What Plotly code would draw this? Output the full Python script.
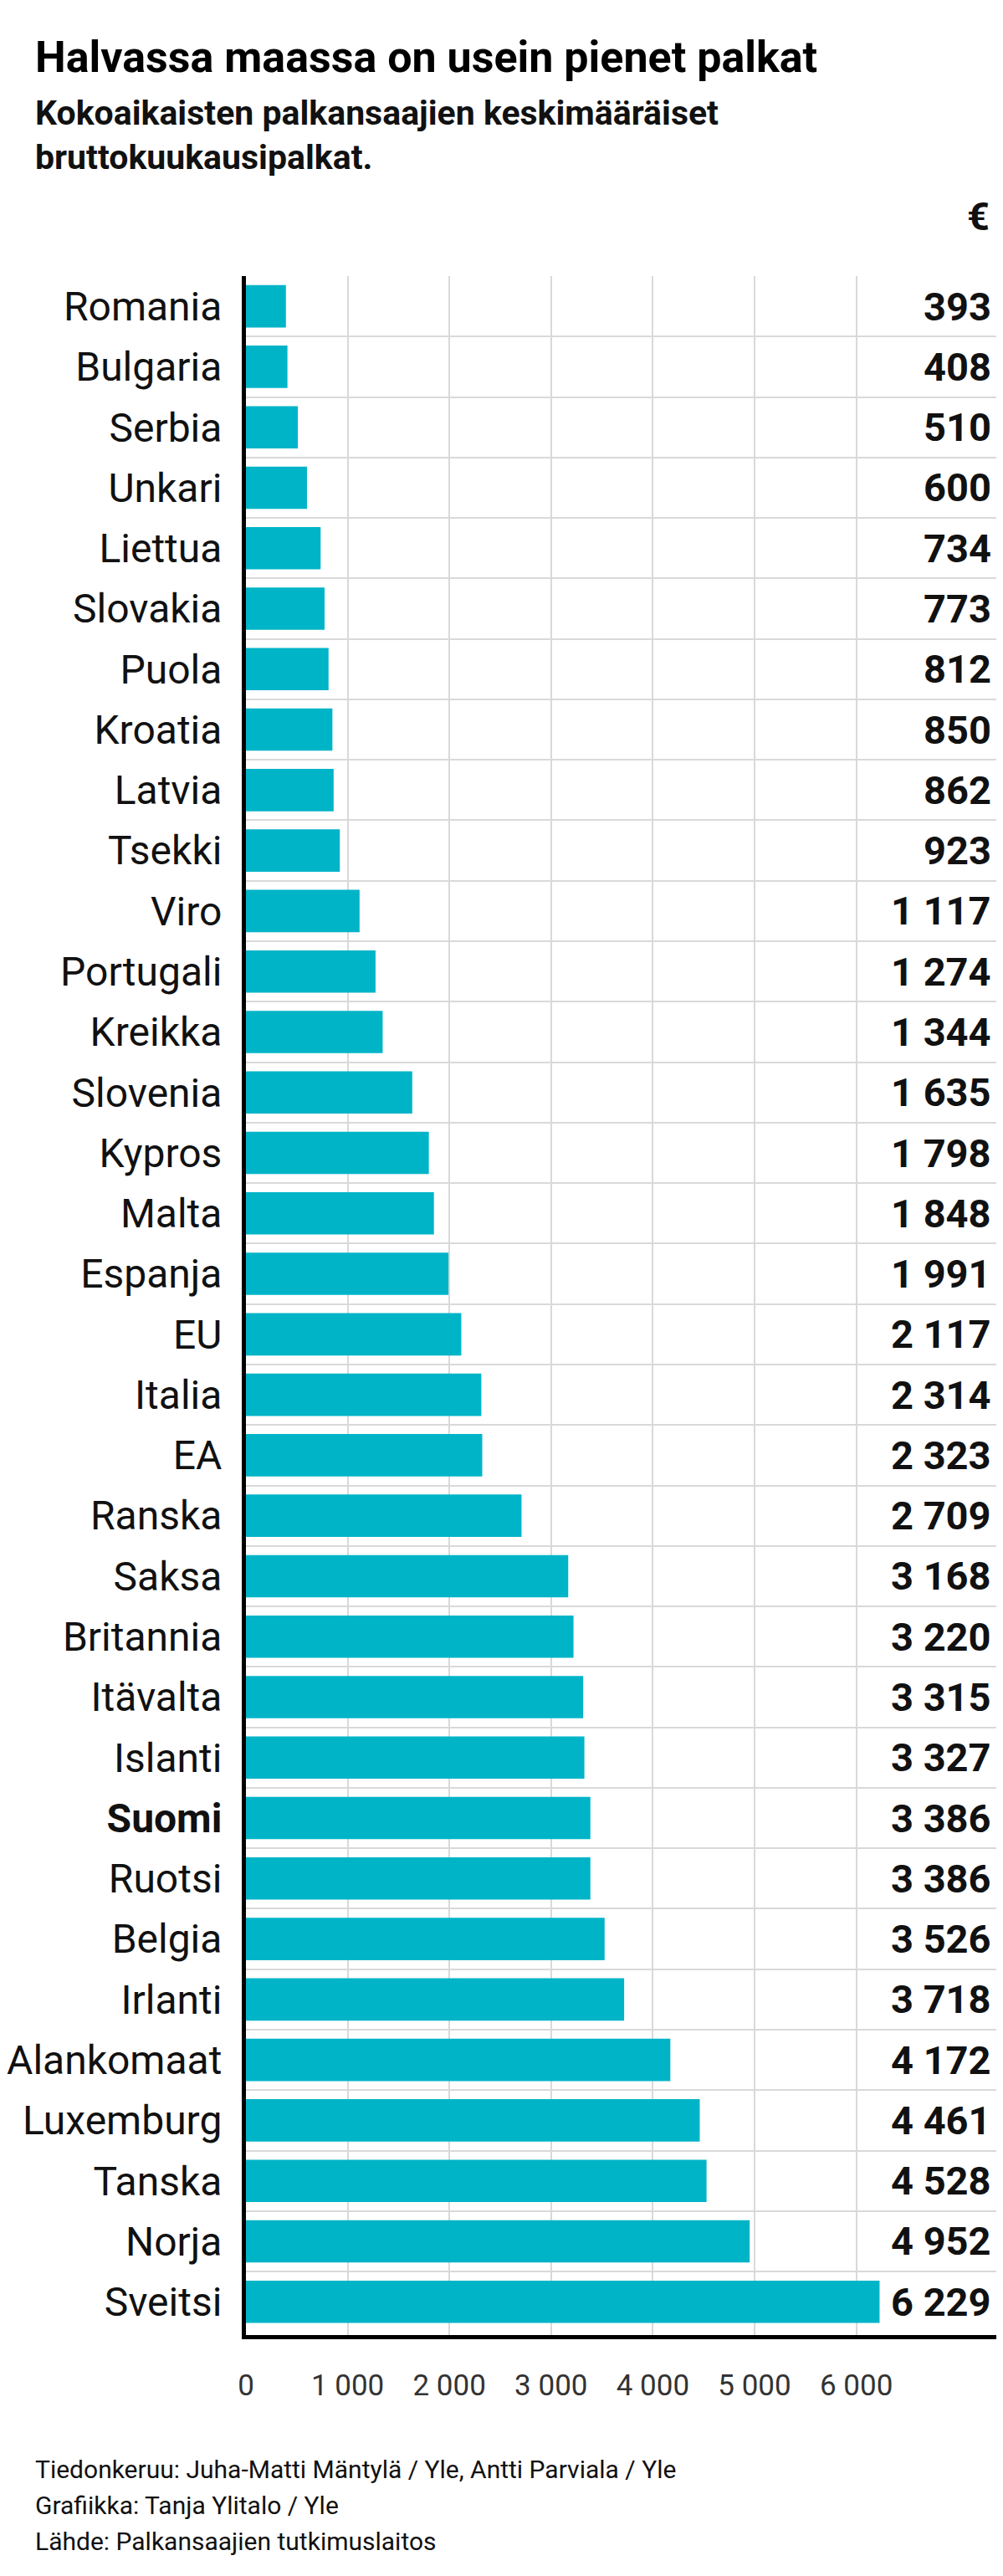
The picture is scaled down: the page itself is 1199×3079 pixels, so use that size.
import plotly.graph_objects as go

countries = ['Romania', 'Bulgaria', 'Serbia', 'Unkari', 'Liettua', 'Slovakia', 'Puola', 'Kroatia',
             'Latvia', 'Tsekki', 'Viro', 'Portugali', 'Kreikka', 'Slovenia', 'Kypros', 'Malta',
             'Espanja', 'EU', 'Italia', 'EA', 'Ranska', 'Saksa', 'Britannia', 'Itävalta', 'Islanti',
             'Suomi', 'Ruotsi', 'Belgia', 'Irlanti', 'Alankomaat', 'Luxemburg', 'Tanska', 'Norja', 'Sveitsi']
salaries = [393, 408, 510, 600, 734, 773, 812, 850, 862, 923, 1117, 1274, 1344, 1635, 1798, 1848,
            1991, 2117, 2314, 2323, 2709, 3168, 3220, 3315, 3327, 3386, 3386, 3526, 3718, 4172,
            4461, 4528, 4952, 6229]
x_ticks = [0, 1000, 2000, 3000, 4000, 5000, 6000]

def fmt(v):
    return f"{v:,}".replace(",", " ")

pos = list(range(len(countries)))
ylabels = [f"<b>{c}</b>" if c == 'Suomi' else c for c in countries]

PW, PH = 916, 2461  # plot area size in px

def px(xpix):
    return (xpix - 283) / PW

def py(ypix):
    return (2783 - ypix) / PH

fig = go.Figure(go.Bar(x=salaries, y=pos, orientation='h', width=0.7,
                       marker=dict(color='#00b4c8', line_width=0), hoverinfo='skip'))

for p, v in zip(pos, salaries):
    fig.add_annotation(x=1, xref='paper', y=p, yref='y', text=f"<b>{fmt(v)}</b>",
                       showarrow=False, xanchor='right', xshift=-20,
                       font=dict(family='Roboto', size=47, color='#111'))

fig.add_annotation(x=1, xref='paper', y=py(250), yref='paper', text="<b>€</b>", showarrow=False,
                   xanchor='right', yanchor='middle', xshift=-22,
                   font=dict(family='Roboto', size=47, color='#111'))

fig.add_annotation(x=px(28), xref='paper', y=py(60), yref='paper',
                   text="<b>Halvassa maassa on usein pienet palkat</b>", showarrow=False,
                   xanchor='left', yanchor='middle', font=dict(family='Roboto', size=52, color='#000'))
fig.add_annotation(x=px(28), xref='paper', y=py(127), yref='paper', showarrow=False,
                   xanchor='left', yanchor='middle',
                   text="<b>Kokoaikaisten palkansaajien keskimääräiset</b>",
                   font=dict(family='Roboto', size=41, color='#111'))
fig.add_annotation(x=px(28), xref='paper', y=py(180), yref='paper', showarrow=False,
                   xanchor='left', yanchor='middle', text="<b>bruttokuukausipalkat.</b>",
                   font=dict(family='Roboto', size=41, color='#111'))
for i, line in enumerate(["Tiedonkeruu: Juha-Matti Mäntylä / Yle, Antti Parviala / Yle",
                          "Grafiikka: Tanja Ylitalo / Yle",
                          "Lähde: Palkansaajien tutkimuslaitos"]):
    fig.add_annotation(x=px(28), xref='paper', y=py(2943 + i * 43), yref='paper',
                       showarrow=False, xanchor='left', yanchor='middle', text=line,
                       font=dict(family='Roboto', size=30, color='#111'))

fig.update_layout(
    width=1199, height=3079, plot_bgcolor='white', paper_bgcolor='white',
    margin=dict(l=283, r=0, t=322, b=296), showlegend=False,
    xaxis=dict(range=[0, 7508], tickvals=x_ticks, ticktext=[fmt(t) for t in x_ticks],
               showgrid=True, gridcolor='#d9d9d9', gridwidth=1.5, zeroline=False,
               showline=True, linecolor='#000', linewidth=5, ticks='', ticklabelstandoff=25,
               tickfont=dict(family='Roboto', size=35, color='#333'), fixedrange=True),
    yaxis=dict(range=[33.55, -0.5], tickvals=pos, ticktext=ylabels, showgrid=False,
               zeroline=False, showline=True, linecolor='#000', linewidth=5, ticks='',
               ticklabelstandoff=14, tickfont=dict(family='Roboto', size=48, color='#111'),
               minor=dict(tickvals=[p + 0.5 for p in pos[:-1]], showgrid=True,
                          gridcolor='#d9d9d9', gridwidth=1.5, ticks=''), fixedrange=True),
)

fig.write_html("out.html")
